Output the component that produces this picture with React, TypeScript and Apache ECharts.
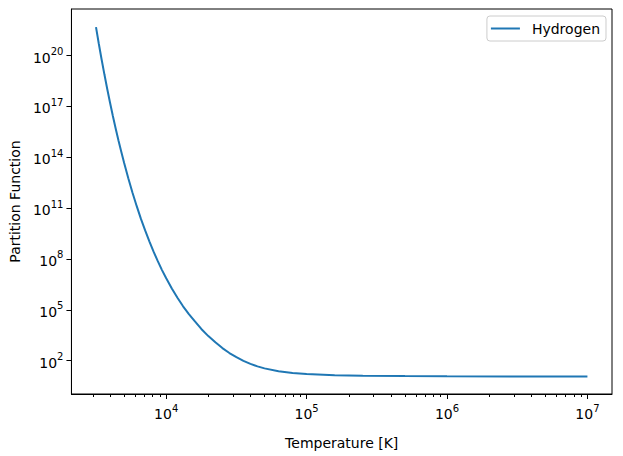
import React, { useEffect, useRef } from "react";
import * as echarts from "echarts";

// Temperatures [K]
const temperatures = [
  3162, 3311, 3467, 3631, 3802, 3981, 4169, 4365, 4571, 4786, 5012, 5370,
  5754, 6166, 6607, 7079, 7586, 8128, 8710, 9333, 10000, 10965, 12023, 13183,
  14454, 15849, 17783, 19953, 22387, 25119, 28184, 31623, 35481, 39811, 44668,
  50119, 63096, 79433, 100000, 158490, 251190, 501190, 1000000, 3162300,
  10000000,
];
// Hydrogen partition function values
const hydrogen = [
  4.8e21, 5.0e20, 5.9e19, 7.6e18, 1.07e18, 1.66e17, 2.75e16, 5.0e15, 9.8e14,
  2.1e14, 4.8e13, 5.8e12, 8.1e11, 1.3e11, 2.3e10, 4.8e9, 1.1e9, 2.7e8, 7.4e7,
  2.2e7, 7.2e6, 1.8e6, 5.1e5, 1.6e5, 5.8e4, 2.3e4, 7.4e3, 2.8e3, 1.2e3, 550,
  280, 160, 97, 64, 45.7, 34.8, 23.7, 18.8, 16.3, 13.9, 13.0, 12.4, 12.0,
  11.7, 11.5,
];
const seriesName = "Hydrogen";
const xTicks = [1e4, 1e5, 1e6, 1e7];
const xMinorTicks = [
  3e3, 4e3, 5e3, 6e3, 7e3, 8e3, 9e3,
  2e4, 3e4, 4e4, 5e4, 6e4, 7e4, 8e4, 9e4,
  2e5, 3e5, 4e5, 5e5, 6e5, 7e5, 8e5, 9e5,
  2e6, 3e6, 4e6, 5e6, 6e6, 7e6, 8e6, 9e6,
];
const yTicks = [1e2, 1e5, 1e8, 1e11, 1e14, 1e17, 1e20];
const xTitle = "Temperature [K]";
const yTitle = "Partition Function";

const FONT = "DejaVu Sans";

const powLabel = (v: number) => {
  const e = Math.round(Math.log10(v));
  return `{b|10}{sup|${e}}`;
};
const richPow = {
  b: { fontSize: 14, fontFamily: FONT, color: "#000", lineHeight: 18, verticalAlign: "bottom" },
  sup: { fontSize: 10, fontFamily: FONT, color: "#000", lineHeight: 10, verticalAlign: "top" },
};

export default function App() {
  const ref = useRef<HTMLDivElement>(null);
  useEffect(() => {
    if (!ref.current) return;
    const chart = echarts.init(ref.current, undefined, { renderer: "svg" });
    const xMin = Math.pow(10, 3.325);
    const xMax = Math.pow(10, 7.175);
    chart.setOption({
      animation: false,
      backgroundColor: "#fff",
      textStyle: { fontFamily: FONT },
      grid: {
        left: 71,
        right: 11,
        top: 9,
        bottom: 62,
        show: true,
        borderColor: "#000",
        borderWidth: 1,
        backgroundColor: "transparent",
      },
      legend: {
        right: 17,
        top: 16,
        padding: [5, 6, 5, 4],
        icon: "rect",
        itemWidth: 29,
        itemHeight: 2,
        itemGap: 0,
        borderColor: "#cccccc",
        borderWidth: 1,
        borderRadius: 3,
        backgroundColor: "rgba(255,255,255,0.8)",
        textStyle: { fontSize: 14, fontFamily: FONT, color: "#000", padding: [0, 0, 0, 7], lineHeight: 15 },
        data: [seriesName],
      },
      xAxis: [
        {
          type: "log",
          min: xMin,
          max: xMax,
          name: xTitle,
          nameLocation: "middle",
          nameGap: 42,
          nameTextStyle: { fontSize: 14, fontFamily: FONT, color: "#000" },
          axisLine: { show: true, lineStyle: { color: "#000", width: 1 } },
          axisTick: { show: true, length: 5, inside: false, lineStyle: { color: "#000", width: 1 }, customValues: xTicks },
          axisLabel: { show: true, margin: 9, customValues: xTicks, formatter: powLabel, rich: richPow },
          splitLine: { show: false },
          minorTick: { show: false },
        },
        {
          type: "log",
          min: xMin,
          max: xMax,
          position: "bottom",
          axisLine: { show: false },
          axisTick: { show: true, length: 3, inside: false, lineStyle: { color: "#000", width: 1 }, customValues: xMinorTicks },
          axisLabel: { show: false },
          splitLine: { show: false },
        },
      ],
      yAxis: {
        type: "log",
        min: Math.pow(10, 0.03),
        max: Math.pow(10, 22.75),
        name: yTitle,
        nameLocation: "middle",
        nameGap: 48,
        nameRotate: 90,
        nameTextStyle: { fontSize: 14, fontFamily: FONT, color: "#000" },
        axisLine: { show: true, lineStyle: { color: "#000", width: 1 } },
        axisTick: { show: true, length: 5, inside: false, lineStyle: { color: "#000", width: 1 }, customValues: yTicks },
        axisLabel: { show: true, margin: 8, customValues: yTicks, formatter: powLabel, rich: richPow },
        splitLine: { show: false },
      },
      series: [
        {
          name: seriesName,
          type: "line",
          xAxisIndex: 0,
          data: temperatures.map((t, i) => [t, hydrogen[i]]),
          symbol: "none",
          showSymbol: false,
          smooth: false,
          lineStyle: { color: "#1f77b4", width: 2 },
          itemStyle: { color: "#1f77b4" },
        },
      ],
    });
    return () => chart.dispose();
  }, []);
  return (
    <div
      ref={ref}
      style={{ position: "fixed", left: 0, top: 0, width: 623, height: 456, background: "#fff" }}
    />
  );
}
